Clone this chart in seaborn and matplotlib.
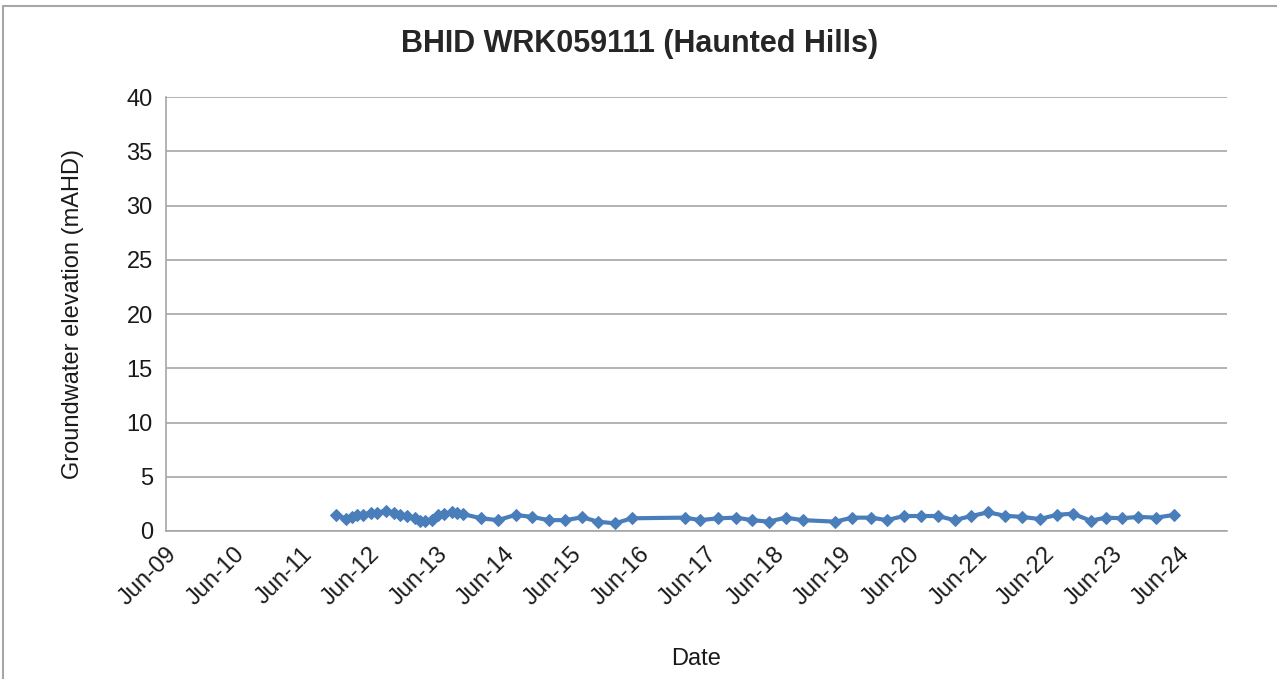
import pandas as pd
import numpy as np
import matplotlib.pyplot as plt
import matplotlib.dates as mdates
from matplotlib.lines import Line2D
import seaborn as sns

# Readings (date, groundwater elevation in mAHD)
dates = [
    "2011-12-10", "2012-02-01", "2012-03-05", "2012-04-01", "2012-05-01",
    "2012-06-15", "2012-07-15", "2012-09-05", "2012-10-15", "2012-11-20",
    "2012-12-25", "2013-02-05", "2013-03-05", "2013-04-01", "2013-05-10",
    "2013-06-10", "2013-07-15", "2013-08-25", "2013-09-20", "2013-10-25",
    "2014-02-01", "2014-05-01", "2014-08-05", "2014-11-01", "2015-02-01",
    "2015-05-01", "2015-08-01", "2015-10-25", "2016-01-25", "2016-04-25",
    "2017-02-05", "2017-05-01", "2017-08-05", "2017-11-10", "2018-02-05",
    "2018-05-05", "2018-08-05", "2018-11-05", "2019-05-01", "2019-08-01",
    "2019-11-10", "2020-02-05", "2020-05-05", "2020-08-05", "2020-11-05",
    "2021-02-05", "2021-05-05", "2021-08-05", "2021-11-05", "2022-02-05",
    "2022-05-10", "2022-08-10", "2022-11-05", "2023-02-10", "2023-05-05",
    "2023-08-01", "2023-10-25", "2024-02-01", "2024-05-05",
]
elevation = [
    1.45, 1.15, 1.30, 1.45, 1.50, 1.70, 1.70, 1.85, 1.65, 1.50,
    1.35, 1.20, 0.95, 0.90, 1.00, 1.45, 1.60, 1.75, 1.70, 1.55,
    1.17, 1.00, 1.48, 1.30, 1.00, 1.00, 1.26, 0.86, 0.70, 1.17,
    1.23, 1.00, 1.17, 1.23, 1.00, 0.86, 1.23, 1.00, 0.86, 1.23,
    1.23, 1.00, 1.38, 1.38, 1.38, 1.00, 1.38, 1.72, 1.40, 1.30,
    1.10, 1.48, 1.60, 0.95, 1.23, 1.17, 1.30, 1.23, 1.48,
]
yticks = [0, 5, 10, 15, 20, 25, 30, 35, 40]

df = pd.DataFrame({"Date": pd.to_datetime(dates), "Elevation": elevation})

sns.set_style("white")
plt.rcParams["font.family"] = ["Liberation Sans", "DejaVu Sans"]

fig = plt.figure(figsize=(12.77, 6.79), dpi=100)
ax = fig.add_axes([0.130, 0.218, 0.8305, 0.639])

blue = "#4a7ebb"
sns.lineplot(data=df, x="Date", y="Elevation", ax=ax, color=blue,
             linewidth=3, marker="D", markersize=6, markeredgecolor=blue,
             markerfacecolor=blue)

ax.set_ylim(0, 40)
ax.set_yticks(yticks)
ax.set_xlim(pd.Timestamp("2009-06-01"), pd.Timestamp("2025-02-15"))
ax.xaxis.set_major_locator(mdates.MonthLocator(bymonth=6, bymonthday=1))
ax.xaxis.set_major_formatter(mdates.DateFormatter("%b-%y"))

ax.grid(axis="y", color="#a6a6a6", linewidth=1.2)
ax.grid(axis="x", visible=False)
for s in ["top", "right"]:
    ax.spines[s].set_visible(False)
for s in ["left", "bottom"]:
    ax.spines[s].set_color("#a6a6a6")
    ax.spines[s].set_linewidth(1.2)

ax.tick_params(axis="both", which="major", direction="out", length=6,
               width=1.2, color="#a6a6a6", labelsize=17, labelcolor="#1a1a1a")
ax.tick_params(axis="x", pad=3)
plt.setp(ax.get_xticklabels(), rotation=45, ha="right", rotation_mode="anchor")

ax.set_xlabel("Date", fontsize=17, labelpad=27, color="#1a1a1a")
ax.set_ylabel("Groundwater elevation (mAHD)", fontsize=17, labelpad=31,
              color="#1a1a1a")
fig.suptitle("BHID WRK059111 (Haunted Hills)", fontsize=22, fontweight="bold",
             x=0.501, y=0.958)

# outer chart border (top and left visible)
fig.add_artist(Line2D([0.0025, 1.0], [0.991, 0.991], color="#a6a6a6", lw=1.5,
                      transform=fig.transFigure))
fig.add_artist(Line2D([0.0025, 0.0025], [0.0, 0.991], color="#a6a6a6", lw=1.5,
                      transform=fig.transFigure))

fig.savefig("out.png", dpi=100)
